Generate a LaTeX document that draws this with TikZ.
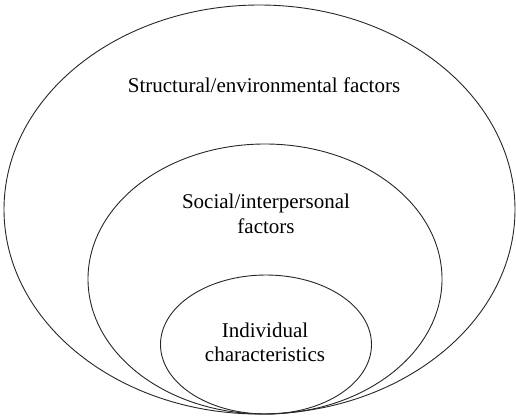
\documentclass[tikz,border=0pt]{standalone}
\usepackage{fontspec}
\setmainfont{Liberation Serif}
\begin{document}
\begin{tikzpicture}[x=1pt,y=-1pt,
  ring/.style={draw=black!85,line width=0.9pt},
  lbl/.style={font=\fontsize{21}{24.5}\selectfont,align=center,inner sep=0pt,anchor=base}]
\useasboundingbox (0,0) rectangle (516,418);
\draw[ring] (259.5,209.5) ellipse [x radius=255.5pt, y radius=204.5pt];
\draw[ring] (265,279) ellipse [x radius=177pt, y radius=135pt];
\draw[ring] (266,344.5) ellipse [x radius=105.5pt, y radius=69.5pt];
\node[lbl] (outer) at (264,92) {Structural/environmental factors};
\node[lbl] (middle) at (266,233) {Social/interpersonal\\factors};
\node[lbl] (inner) at (265,361.5) {Individual\\characteristics};
\end{tikzpicture}
\end{document}
